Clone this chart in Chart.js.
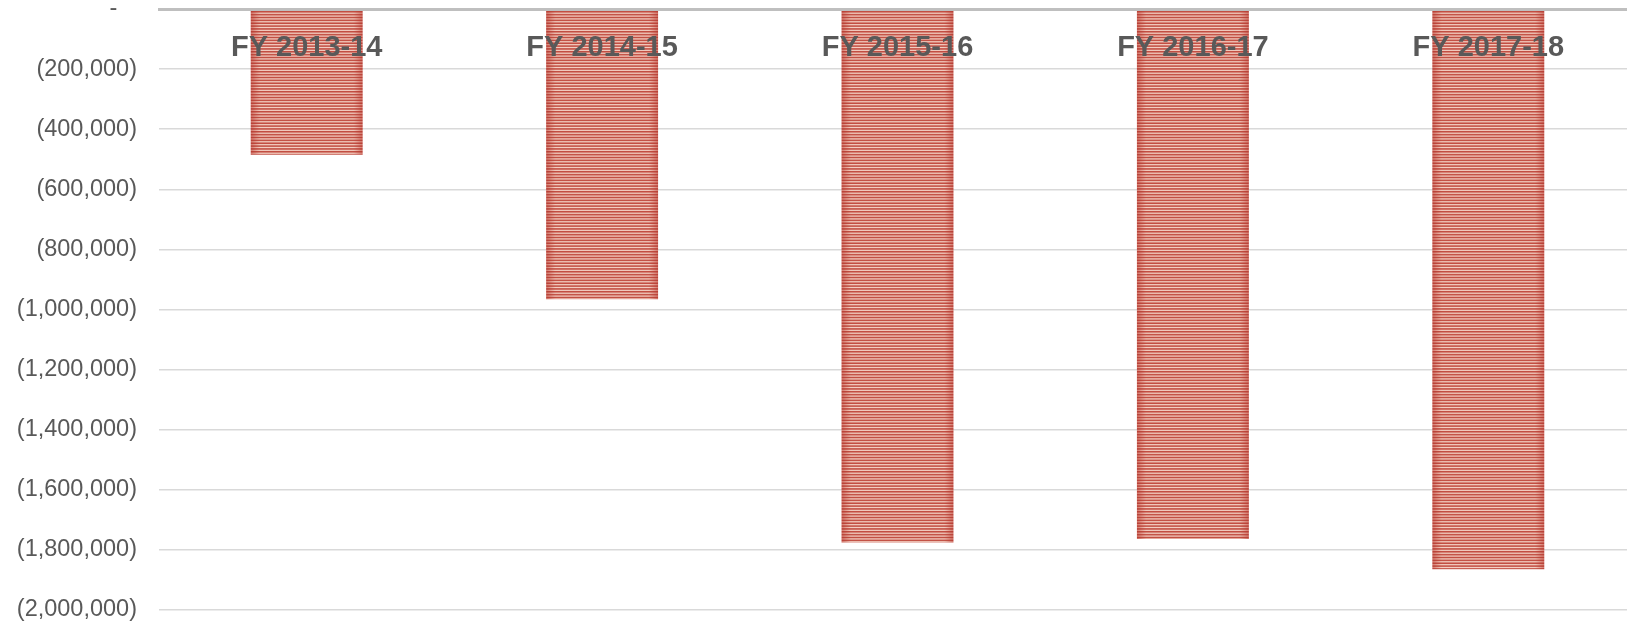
<!DOCTYPE html>
<html>
<head>
<meta charset="utf-8">
<script src="https://cdn.jsdelivr.net/npm/chart.js@4.4.1/dist/chart.umd.min.js"></script>
<style>
  html, body { margin: 0; padding: 0; background: #ffffff; overflow: hidden; width: 1627px; height: 625px; }
  canvas { display: block; }
</style>
</head>
<body>
<canvas id="c" width="1636" height="625"></canvas>
<script>
const categories = ['FY 2013-14', 'FY 2014-15', 'FY 2015-16', 'FY 2016-17', 'FY 2017-18'];
const values = [-485000, -966000, -1775000, -1764000, -1864000];
const yMin = -2000000;
const yMax = 0;
const yStep = 200000;

const BAR_PCT = 0.379;
const patternCache = {};

function mix(a, b, t) {
  return [0, 1, 2].map(i => Math.round(a[i] + (b[i] - a[i]) * t));
}

function stripePattern(ctx) {
  const chart = ctx.chart;
  const area = chart.chartArea;
  if (!area || ctx.dataIndex === undefined) return '#c0504d';
  const xs = chart.scales.x;
  const step = area.width / categories.length;
  const w = Math.max(2, Math.round(step * BAR_PCT));
  const center = xs.getPixelForValue(ctx.dataIndex);
  const left = center - w / 2;
  let tile = patternCache[w];
  if (!tile) {
    tile = document.createElement('canvas');
    const H = 20, N = 7, per = H / N;
    tile.width = w;
    tile.height = H;
    const t = tile.getContext('2d');
    const red = [194, 78, 66];
    const redEdge = [184, 64, 54];
    const light = [243, 206, 194];
    const lightEdge = [214, 124, 112];
    for (let x = 0; x < w; x++) {
      const d = Math.min(x + 0.5, w - x - 0.5);
      const k = Math.min(1, d / 9);
      const l = mix(lightEdge, light, k);
      const r = mix(redEdge, red, k);
      t.fillStyle = `rgb(${l[0]},${l[1]},${l[2]})`;
      t.fillRect(x, 0, 1, H);
      t.fillStyle = `rgb(${r[0]},${r[1]},${r[2]})`;
      for (let s = 0; s < N; s++) {
        t.fillRect(x, s * per, 1, per * 0.55);
      }
    }
    patternCache[w] = tile;
  }
  const pat = chart.ctx.createPattern(tile, 'repeat');
  if (pat.setTransform) pat.setTransform(new DOMMatrix([1, 0, 0, 1, left, area.top + 2]));
  return pat;
}

function fmt(v) {
  if (v === 0) return '-   ';
  const s = Math.abs(v).toLocaleString('en-US');
  return v < 0 ? '(' + s + ')' : s;
}

new Chart(document.getElementById('c'), {
  type: 'bar',
  data: {
    labels: categories,
    datasets: [{
      data: values,
      backgroundColor: stripePattern,
      borderWidth: 0,
      barPercentage: BAR_PCT,
      categoryPercentage: 1.0
    }]
  },
  options: {
    responsive: false,
    animation: false,
    devicePixelRatio: 1,
    layout: { padding: { left: 17, right: 0, top: 9, bottom: 15 } },
    plugins: {
      legend: { display: false },
      tooltip: { enabled: false },
      title: { display: false }
    },
    scales: {
      x: {
        position: { y: 0 },
        offset: true,
        grid: { display: false, drawTicks: false },
        border: { display: true, color: '#bfbfbf', width: 3, z: 1 },
        ticks: {
          z: 2,
          padding: 22,
          color: '#595959',
          font: { family: '"Liberation Sans", Arial, sans-serif', size: 29, weight: 'bold', lineHeight: 1.2 },
          maxRotation: 0,
          autoSkip: false
        },
        afterFit: (s) => { s.paddingLeft = 0; s.paddingRight = 0; s.paddingTop = 0; s.paddingBottom = 0; }
      },
      y: {
        min: yMin,
        max: yMax,
        grid: { color: '#d9d9d9', lineWidth: 1.5, drawTicks: false },
        border: { display: false },
        ticks: {
          stepSize: yStep,
          padding: 22,
          color: '#595959',
          font: { family: '"Liberation Sans", Arial, sans-serif', size: 23.5, lineHeight: 1.2 },
          callback: (v) => fmt(v)
        },
        afterFit: (s) => { s.width = 142; s.paddingTop = 0; s.paddingBottom = 0; s.paddingLeft = 0; s.paddingRight = 0; }
      }
    }
  }
});
</script>
</body>
</html>
